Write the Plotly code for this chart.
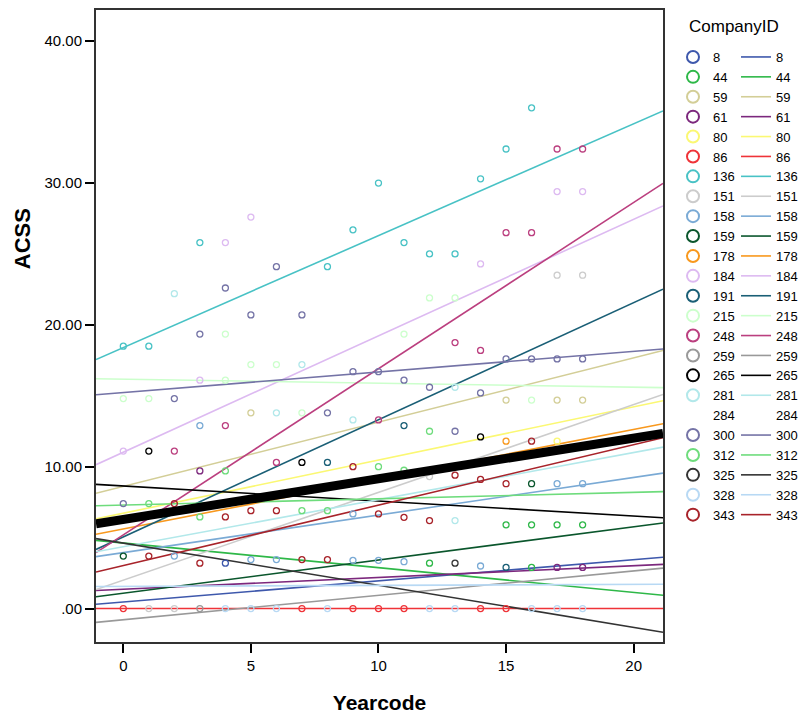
import numpy as np
import plotly.graph_objects as go

# ---- data -----------------------------------------------------------------
company_ids = [8, 44, 59, 61, 80, 86, 136, 151, 158, 159, 178, 184, 191, 215,
               248, 259, 265, 281, 284, 300, 312, 325, 328, 343]

# per-company linear fit of ACSS on Yearcode (value at Yearcode 0, slope per year)
fit_intercept = [0.46, 4.62, 8.61, 1.36, 6.72, 0.00, 18.40, 2.00, 3.94, 1.08,
                 5.61, 11.02, 5.05, 16.17, 5.19, -0.79, 8.64, 4.36, None, 15.23,
                 7.29, 4.61, 1.56, 3.03]
fit_slope = [0.149, -0.174, 0.453, 0.083, 0.375, 0.0, 0.789, 0.619, 0.265, 0.234,
             0.351, 0.821, 0.826, -0.028, 1.172, 0.172, -0.106, 0.332, None, 0.145,
             0.045, -0.297, 0.007, 0.426]

# overall fit
overall_intercept = 6.28
overall_slope = 0.287

# observations in long format
point_company = (
    [136] * 12 + [184] * 7 + [248] * 10 + [300] * 18 + [215] * 11 + [281] * 6 +
    [151] * 5 + [59] * 4 + [80] * 1 + [312] * 8 + [44] * 6 + [343] * 16 +
    [178] * 1 + [265] * 3 + [325] * 1 + [159] * 2 + [191] * 3 + [158] * 11 +
    [328] * 9 + [8] * 1 + [61] * 3 + [259] * 1 + [86] * 7
)
point_year = (
    [0, 1, 3, 8, 9, 10, 11, 12, 13, 14, 15, 16] +
    [0, 3, 4, 5, 14, 17, 18] +
    [2, 4, 6, 10, 13, 14, 15, 16, 17, 18] +
    [0, 2, 3, 4, 5, 6, 7, 8, 9, 10, 11, 12, 13, 14, 15, 16, 17, 18] +
    [0, 1, 4, 4, 5, 6, 7, 11, 12, 13, 16] +
    [2, 6, 7, 9, 13, 13] +
    [1, 2, 12, 17, 18] +
    [5, 15, 17, 18] +
    [17] +
    [1, 3, 4, 7, 8, 10, 11, 12] +
    [12, 15, 16, 16, 17, 18] +
    [1, 2, 3, 4, 5, 6, 7, 8, 9, 10, 11, 12, 13, 14, 15, 16] +
    [15] +
    [1, 7, 14] +
    [13] +
    [0, 16] +
    [8, 11, 15] +
    [2, 3, 5, 6, 9, 9, 10, 11, 14, 17, 18] +
    [4, 5, 6, 8, 12, 13, 16, 17, 18] +
    [4] +
    [3, 17, 18] +
    [3] +
    [0, 7, 9, 10, 11, 14, 15]
)
point_acss = (
    [18.5, 18.5, 25.8, 24.1, 26.7, 30.0, 25.8, 25.0, 25.0, 30.3, 32.4, 35.3] +
    [11.1, 16.1, 25.8, 27.6, 24.3, 29.4, 29.4] +
    [11.1, 12.9, 10.3, 13.3, 18.75, 18.2, 26.5, 26.5, 32.4, 32.4] +
    [7.4, 14.8, 19.35, 22.6, 20.7, 24.1, 20.7, 13.8, 16.7, 16.7, 16.1, 15.6,
     12.5, 15.2, 17.6, 17.6, 17.6, 17.6] +
    [14.8, 14.8, 16.1, 19.35, 17.2, 17.2, 13.8, 19.35, 21.9, 21.9, 14.7] +
    [22.2, 13.8, 17.2, 13.3, 15.6, 6.2] +
    [0.0, 0.0, 9.3, 23.5, 23.5] +
    [13.8, 14.7, 14.7, 14.7] +
    [11.8] +
    [7.4, 6.46, 9.7, 6.9, 6.9, 10.0, 9.75, 12.5] +
    [3.2, 5.9, 5.9, 2.9, 5.9, 5.9] +
    [3.7, 7.4, 3.2, 6.46, 6.9, 6.9, 3.45, 3.45, 10.0, 6.67, 6.43, 6.2, 9.4,
     9.1, 8.8, 11.8] +
    [11.8] +
    [11.1, 10.3, 12.1] +
    [3.2] +
    [3.7, 8.8] +
    [10.3, 12.9, 2.9] +
    [3.7, 12.9, 3.45, 3.45, 3.4, 6.67, 3.4, 3.3, 3.0, 8.8, 8.8] +
    [0.0] * 9 +
    [3.2] +
    [9.7, 2.9, 2.9] +
    [0.0] +
    [0.0] * 7
)

y_tick_values = [0, 10, 20, 30, 40]
y_tick_labels = [".00", "10.00", "20.00", "30.00", "40.00"]
x_tick_values = [0, 5, 10, 15, 20]

# ---- styling --------------------------------------------------------------
palette = {
    8: "#3E58AC", 44: "#2EB848", 59: "#D3CE97", 61: "#7C287D", 80: "#FBF873",
    86: "#EF3338", 136: "#48C2C5", 151: "#CCCCCC", 158: "#7AAAD5",
    159: "#0A562C", 178: "#F8981D", 184: "#DDBAF1", 191: "#1A5F76",
    215: "#CCFFCC", 248: "#BB3F7F", 259: "#999999", 265: "#010101",
    281: "#B2E8EA", 284: "rgba(0,0,0,0)", 300: "#7473A6", 312: "#6EDC7C",
    325: "#333333", 328: "#B8D9F4", 343: "#A8232A",
}

X_RANGE = [-1.07, 21.15]
Y_RANGE = [-2.36, 42.2]
FONT = "Liberation Sans, Arial, sans-serif"

W, H = 804, 719
ML, MR, MT, MB = 96, 127, 8, 69
plot_w = W - ML - MR
plot_h = H - MT - MB

fig = go.Figure()

pc = np.array(point_company)
px = np.array(point_year, dtype=float)
py = np.array(point_acss, dtype=float)
x_line = np.array(X_RANGE)

# fit lines first, then observations
line_traces = []
marker_traces = []
for cid, b, m in zip(company_ids, fit_intercept, fit_slope):
    col = palette[cid]
    if b is None:
        lx, ly = [None], [None]
    else:
        lx, ly = x_line, b + m * x_line
    line_traces.append(go.Scatter(
        x=lx, y=ly, mode="lines", name=str(cid),
        line=dict(color=col, width=1.6), legend="legend2",
        hoverinfo="skip",
    ))
    sel = pc == cid
    if sel.any():
        mx, my = px[sel], py[sel]
    else:
        mx, my = [None], [None]
    marker_traces.append(go.Scatter(
        x=mx, y=my, mode="markers", name=str(cid),
        marker=dict(symbol="circle-open", size=6, color=col,
                    line=dict(width=1.3, color=col)),
        legend="legend",
    ))

for t in line_traces:
    fig.add_trace(t)
for t in marker_traces:
    fig.add_trace(t)

# overall fit line
fig.add_trace(go.Scatter(
    x=x_line, y=overall_intercept + overall_slope * x_line, mode="lines",
    line=dict(color="black", width=9), showlegend=False, hoverinfo="skip",
))

axis_common = dict(
    showgrid=False, zeroline=False, showline=True, linecolor="#333333",
    linewidth=2, mirror=True, ticks="outside", ticklen=9, tickwidth=1.6,
    tickcolor="black", tickfont=dict(family=FONT, size=15, color="black"),
)

fig.update_xaxes(range=X_RANGE, tickvals=x_tick_values,
                 title=dict(text="<b>Yearcode</b>",
                            font=dict(family=FONT, size=21, color="black"),
                            standoff=22),
                 **axis_common)
fig.update_yaxes(range=Y_RANGE, tickvals=y_tick_values, ticktext=y_tick_labels,
                 **axis_common)

legend_common = dict(
    bgcolor="rgba(0,0,0,0)", borderwidth=0,
    font=dict(family=FONT, size=13, color="black"),
    xref="container", yref="container", xanchor="left", yanchor="top",
    y=1 - 42 / H, traceorder="normal", maxheight=690,
)

fig.update_layout(
    width=W, height=H,
    margin=dict(l=ML, r=MR, t=MT, b=MB),
    paper_bgcolor="white", plot_bgcolor="white",
    font=dict(family=FONT, color="black"),
    legend=dict(x=673 / W, itemsizing="constant", **legend_common),
    legend2=dict(x=736 / W, itemsizing="trace", **legend_common),
    annotations=[
        dict(text="<b>ACSS</b>", textangle=-90, xref="paper", yref="paper",
             x=(21 - ML) / plot_w, y=(H - MB - 240) / plot_h,
             xanchor="center", yanchor="middle", showarrow=False,
             font=dict(family="Liberation Sans Narrow, Arial Narrow, Liberation Sans",
                       size=22, color="black")),
        dict(text="CompanyID", xref="paper", yref="paper",
             x=(702 - ML) / plot_w, y=(H - MB - 25) / plot_h,
             xanchor="left", yanchor="middle", showarrow=False,
             font=dict(family=FONT, size=17, color="black")),
    ],
)

fig.write_html("out.html")
